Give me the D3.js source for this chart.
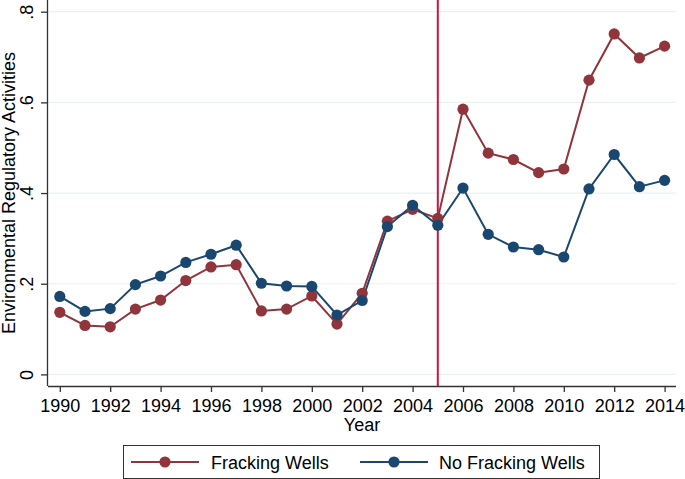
<!DOCTYPE html>
<html><head><meta charset="utf-8">
<script src="https://cdn.jsdelivr.net/npm/d3@7"></script>
<style>body{margin:0;background:#fff}svg{display:block}text{font-family:"Liberation Sans",Arial,sans-serif;fill:#000}</style>
</head><body>
<script>
const years = d3.range(1990, 2015);
const fracking = [0.137,0.108,0.105,0.144,0.164,0.207,0.237,0.242,0.140,0.144,0.173,0.111,0.179,0.338,0.364,0.344,0.585,0.488,0.474,0.445,0.453,0.649,0.751,0.698,0.724];
const noFracking = [0.172,0.139,0.145,0.198,0.217,0.247,0.265,0.285,0.201,0.195,0.194,0.131,0.163,0.326,0.373,0.329,0.411,0.309,0.281,0.275,0.259,0.409,0.485,0.414,0.428];
const xTicks = d3.range(1990, 2015, 2);
const yTicks = [0, 0.2, 0.4, 0.6, 0.8];
const yTickLabels = ["0", ".2", ".4", ".6", ".8"];
const seriesNames = ["Fracking Wells", "No Fracking Wells"];
const colors = ["#90353b", "#1a476f"];
const eventYear = 2005;

const W = 685, H = 479;
const svg = d3.select("body").append("svg").attr("width", W).attr("height", H);
const pLeft = 48, pRight = 676, pBottom = 386, pTop = 0;
const x = d3.scaleLinear().domain([1990, 2014]).range([59.8, 664.6]);
const y = d3.scaleLinear().domain([0, 0.8]).range([374.4, 11.7]);

// gridlines
svg.append("g").selectAll("line").data(yTicks).join("line")
  .attr("x1", pLeft).attr("x2", pRight).attr("y1", d => y(d)).attr("y2", d => y(d))
  .attr("stroke", "#eaf2f3").attr("stroke-width", 1.2);

// axes
const xAxis = d3.axisBottom(x).tickValues(xTicks).tickFormat(d3.format("d")).tickSize(6).tickSizeOuter(0);
const gx = svg.append("g").attr("transform", `translate(0,${pBottom})`).call(xAxis);
gx.select(".domain").attr("d", `M${pLeft},0.5H${pRight}`).attr("stroke", "#333").attr("stroke-width", 1.3);
gx.selectAll(".tick line").attr("stroke", "#333").attr("stroke-width", 1.3);
gx.selectAll(".tick text").attr("font-size", 18).attr("dy", "0.95em").attr("fill", "#000")
  .style("font-family", '"Liberation Sans",Arial,sans-serif');

const yAxis = d3.axisLeft(y).tickValues(yTicks).tickFormat((d, i) => yTickLabels[i]).tickSize(7).tickSizeOuter(0);
const gy = svg.append("g").attr("transform", `translate(${pLeft},0)`).call(yAxis);
gy.select(".domain").attr("d", `M-0.5,${pTop}V${pBottom}`).attr("stroke", "#333").attr("stroke-width", 1.3);
gy.selectAll(".tick line").attr("stroke", "#333").attr("stroke-width", 1.3);
gy.selectAll(".tick text").attr("font-size", 18).attr("fill", "#000")
  .style("font-family", '"Liberation Sans",Arial,sans-serif')
  .attr("x", null).attr("dy", null)
  .attr("text-anchor", "middle")
  .attr("transform", "translate(-15,0) rotate(-90)")
  .attr("y", 0);

// vertical event line
svg.append("line").attr("x1", x(eventYear)).attr("x2", x(eventYear)).attr("y1", pTop).attr("y2", pBottom)
  .attr("stroke", "#c8163f").attr("stroke-width", 2);

// series
const data = [fracking, noFracking];
const line = d3.line().x((d, i) => x(years[i])).y(d => y(d));
data.forEach((s, k) => {
  svg.append("path").datum(s).attr("d", line).attr("fill", "none").attr("stroke", colors[k]).attr("stroke-width", 2);
});
data.forEach((s, k) => {
  svg.append("g").selectAll("circle").data(s).join("circle")
    .attr("cx", (d, i) => x(years[i])).attr("cy", d => y(d)).attr("r", 5.6).attr("fill", colors[k]);
});

// axis titles
svg.append("text").attr("x", (pLeft + pRight) / 2).attr("y", 431).attr("text-anchor", "middle").attr("font-size", 18).text("Year");
svg.append("text").attr("transform", `translate(15,${193}) rotate(-90)`).attr("text-anchor", "middle").attr("font-size", 18).text("Environmental Regulatory Activities");

// legend
svg.append("rect").attr("x", 123.5).attr("y", 445.5).attr("width", 476).attr("height", 33).attr("fill", "#fff").attr("stroke", "#333").attr("stroke-width", 1);
const lg = [{x0: 131, x1: 199, tx: 211}, {x0: 360, x1: 428, tx: 439}];
lg.forEach((p, k) => {
  svg.append("line").attr("x1", p.x0).attr("x2", p.x1).attr("y1", 462).attr("y2", 462).attr("stroke", colors[k]).attr("stroke-width", 2);
  svg.append("circle").attr("cx", (p.x0 + p.x1) / 2).attr("cy", 462).attr("r", 5.6).attr("fill", colors[k]);
  svg.append("text").attr("x", p.tx).attr("y", 468.5).attr("font-size", 18).text(seriesNames[k]);
});
</script>
</body></html>
